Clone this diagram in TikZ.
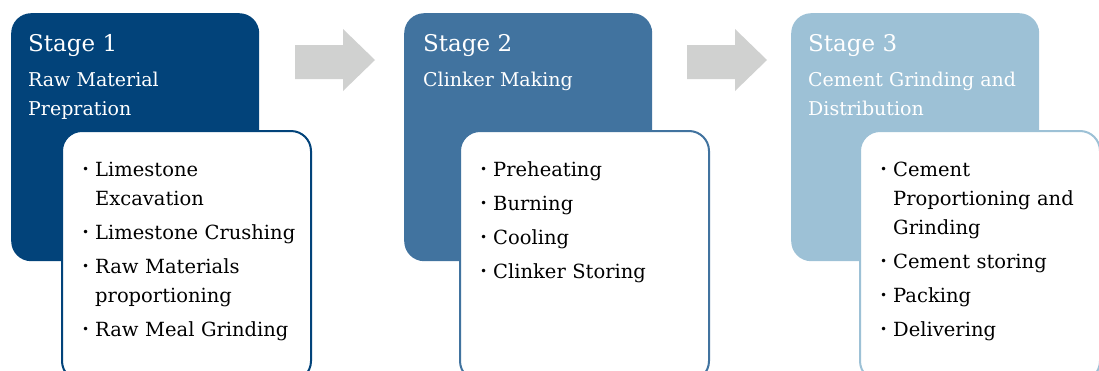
\documentclass[tikz,border=0pt]{standalone}
\usepackage{fontspec}
\setmainfont{DejaVu Serif}
\definecolor{stageA}{HTML}{02437A}
\definecolor{stageB}{HTML}{41739F}
\definecolor{stageC}{HTML}{9DC1D6}
\definecolor{arrowgray}{HTML}{D0D1D0}
\tikzset{
  stagebox/.style = {
    anchor=north west, minimum width=248pt, minimum height=248pt,
    rounded corners=20pt, inner sep=0pt
  },
  listbox/.style = {
    anchor=north west, draw, line width=2pt, fill=white,
    minimum width=249pt, minimum height=250pt,
    rounded corners=20pt, inner sep=0pt
  },
  stagetitle/.style = {
    anchor=base west, text=white, inner sep=0pt,
    font=\fontsize{23}{30}\selectfont
  },
  stagename/.style = {
    anchor=north west, text=white, align=left, inner sep=0pt,
    font=\fontsize{19}{29}\selectfont
  },
  steplist/.style = {
    anchor=north west, text width=300pt, align=left, inner sep=0pt,
    font=\fontsize{19.5}{29}\selectfont
  },
  blockarrow/.style = {fill=arrowgray}
}
\newcommand{\toprule}{\rule{0pt}{20pt}}
\newcommand{\stepitem}[1]{\par\setlength{\parskip}{5pt}\hangindent=13pt\hangafter=1\noindent
  \makebox[13pt][l]{\toprule\raisebox{2.5pt}{\fontsize{12}{12}\selectfont •}}#1}

\begin{document}
\begin{tikzpicture}[x=1pt,y=-1pt]
  \clip (0,0) rectangle (1099,370);
  % stage 1
  \node[stagebox, fill=stageA] (s1) at (11,13) {};
  \node[stagetitle] (t1) at (28,51) {Stage 1};
  \node[stagename] (n1) at (28,66) {\toprule Raw Material\\Prepration};
  \node[listbox, draw=stageA] (b1) at (61,130) {};
  \node[steplist] (l1) at (82,142) {%
    \stepitem{Limestone\newline Excavation}
    \stepitem{Limestone Crushing}
    \stepitem{Raw Materials\newline proportioning}
    \stepitem{Raw Meal Grinding}};
  \fill[blockarrow] (295,45) -- (343,45) -- (343,29) -- (375,60)
    -- (343,91) -- (343,79) -- (295,79) -- cycle;
  % stage 2
  \node[stagebox, fill=stageB] (s2) at (404,13) {};
  \node[stagetitle] (t2) at (423,51) {Stage 2};
  \node[stagename] (n2) at (423,66) {\toprule Clinker Making};
  \node[listbox, draw=stageB] (b2) at (459,130) {};
  \node[steplist] (l2) at (480,142) {%
    \stepitem{Preheating}
    \stepitem{Burning}
    \stepitem{Cooling}
    \stepitem{Clinker Storing}};
  \fill[blockarrow] (687,45) -- (735,45) -- (735,29) -- (767,60)
    -- (735,91) -- (735,79) -- (687,79) -- cycle;
  % stage 3
  \node[stagebox, fill=stageC] (s3) at (791,13) {};
  \node[stagetitle] (t3) at (808,51) {Stage 3};
  \node[stagename] (n3) at (808,66) {\toprule Cement Grinding and\\Distribution};
  \node[listbox, draw=stageC, minimum width=240pt] (b3) at (859,130) {};
  \node[steplist] (l3) at (880,142) {%
    \stepitem{Cement\newline Proportioning and\newline Grinding}
    \stepitem{Cement storing}
    \stepitem{Packing}
    \stepitem{Delivering}};
\end{tikzpicture}
\end{document}
